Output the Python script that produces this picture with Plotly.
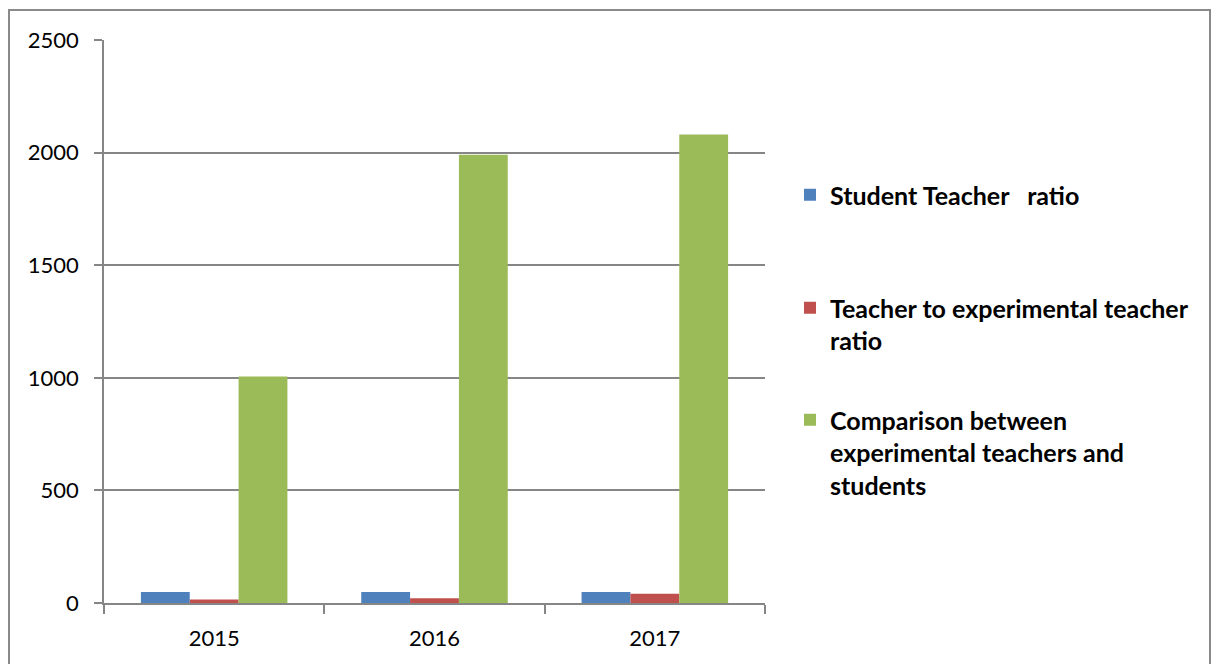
import plotly.graph_objects as go

years = ["2015", "2016", "2017"]
student_teacher = [49, 49, 49]
teacher_experimental = [16, 21, 41]
comparison = [1006, 1990, 2080]

names = [
    "Student Teacher   ratio",
    "Teacher to experimental teacher<br>ratio",
    "Comparison between<br>experimental teachers and<br>students",
]
colors = ["#4F81BD", "#C0504D", "#9BBB59"]
series = [student_teacher, teacher_experimental, comparison]
legend_ids = ["legend", "legend2", "legend3"]

W, H = 1212, 664
ML, MR, MT, MB = 104, 447, 40, 61
pw = W - ML - MR
ph = H - MT - MB

def px_x(p):
    return (p - ML) / pw

def px_y(p):
    return (H - MB - p) / ph

FONT = "Lato"

fig = go.Figure()
for name, col, vals, lg in zip(names, colors, series, legend_ids):
    fig.add_trace(go.Bar(
        x=years, y=vals, name=name, marker_color=col,
        marker_line_width=0, legend=lg, showlegend=True,
    ))

legend_common = dict(
    font=dict(family=FONT, size=25, color="#000000", weight="bold"),
    bgcolor="rgba(0,0,0,0)", borderwidth=0,
    xanchor="left", yanchor="top", valign="top",
    itemwidth=30, tracegroupgap=0, visible=True,
)
legend_y_px = [172, 285, 397]
legend_x_px = 790

fig.update_layout(
    width=W, height=H,
    showlegend=True,
    margin=dict(l=ML, r=MR, t=MT, b=MB, autoexpand=False),
    paper_bgcolor="white", plot_bgcolor="white",
    barmode="group", bargap=0.335, bargroupgap=0,
    font=dict(family=FONT, size=22, color="#000000"),
    legend=dict(x=px_x(legend_x_px), y=px_y(legend_y_px[0]), **legend_common),
    legend2=dict(x=px_x(legend_x_px), y=px_y(legend_y_px[1]), **legend_common),
    legend3=dict(x=px_x(legend_x_px), y=px_y(legend_y_px[2]), **legend_common),
    xaxis=dict(
        showline=True, linecolor="#868686", linewidth=1.5,
        ticks="outside", tickson="boundaries", ticklen=9,
        tickcolor="#868686", tickwidth=1.5,
        showgrid=False, zeroline=False, ticklabelstandoff=15,
        tickfont=dict(family=FONT, size=22, color="#000000"),
    ),
    yaxis=dict(
        range=[0, 2500], tickvals=[0, 500, 1000, 1500, 2000, 2500],
        showline=True, linecolor="#868686", linewidth=1.5,
        ticks="outside", ticklen=8, tickcolor="#868686", tickwidth=1.5,
        showgrid=True, gridcolor="#868686", gridwidth=1.5,
        zeroline=False, ticklabelstandoff=11,
        tickfont=dict(family=FONT, size=22, color="#000000"),
    ),
    shapes=[dict(
        type="rect", xref="paper", yref="paper",
        x0=px_x(9), x1=px_x(1210), y0=px_y(680), y1=px_y(10),
        line=dict(color="#8A8A8A", width=2), fillcolor="rgba(0,0,0,0)",
        layer="below",
    )],
)

fig.write_html(
    "out.html",
    config={"displayModeBar": False},
    post_script="document.body.style.margin='0';document.body.style.overflow='hidden';",
)
